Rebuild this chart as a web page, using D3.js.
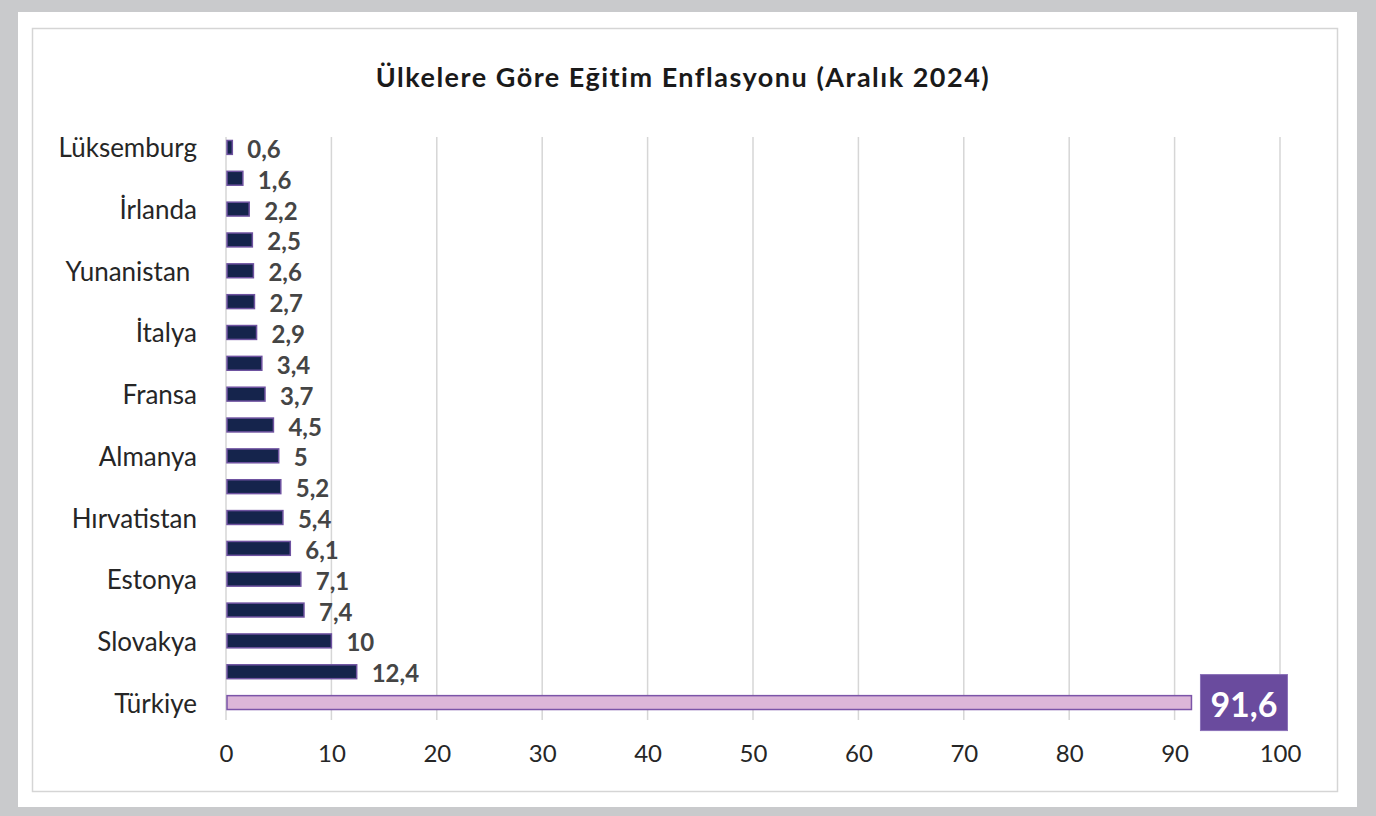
<!DOCTYPE html>
<html><head><meta charset="utf-8">
<script src="https://cdn.jsdelivr.net/npm/d3@7"></script>
<style>
html,body{margin:0;padding:0;background:#fff;}
svg{display:block;}
</style></head>
<body>
<script>
const title = "Ülkelere Göre Eğitim Enflasyonu (Aralık 2024)";
// Only every other category is labelled in the original chart
const categories = ["Lüksemburg","","İrlanda","","Yunanistan ","","İtalya","","Fransa","","Almanya","","Hırvatistan","","Estonya","","Slovakya","","Türkiye"];
const values = [0.6,1.6,2.2,2.5,2.6,2.7,2.9,3.4,3.7,4.5,5,5.2,5.4,6.1,7.1,7.4,10,12.4,91.6];
const xTicks = [0,10,20,30,40,50,60,70,80,90,100];
const highlight = "Türkiye";

const W = 1376, H = 816;
const svg = d3.select("body").append("svg").attr("width", W).attr("height", H);
const font = "Lato, 'Open Sans', sans-serif";

// outer frame
svg.append("rect").attr("x",0).attr("y",0).attr("width",W).attr("height",H).attr("fill","#c9cacc");
svg.append("rect").attr("x",18).attr("y",12).attr("width",1339).attr("height",795).attr("fill","#fff");
svg.append("rect").attr("x",32.5).attr("y",28.5).attr("width",1305).attr("height",763)
  .attr("fill","none").attr("stroke","#d5d5d5").attr("stroke-width",1.5);

svg.append("text").attr("x",683).attr("y",76).attr("text-anchor","middle")
  .attr("dominant-baseline","central")
  .attr("font-family",font).attr("font-weight","bold").attr("font-size",27).attr("fill","#1a1a1a")
  .attr("letter-spacing",1.5)
  .text(title);

const x = d3.scaleLinear().domain([0,100]).range([226,1280]);
const y = d3.scaleBand().domain(d3.range(categories.length)).range([132,718]).paddingInner(0.55).paddingOuter(0.275);

// gridlines
svg.append("g").selectAll("line").data(xTicks).join("line")
  .attr("x1",d=>x(d)).attr("x2",d=>x(d)).attr("y1",137).attr("y2",720)
  .attr("stroke","#d6d6d6").attr("stroke-width",1.5);

// x tick labels
const xAxis = d3.axisBottom(x).tickValues(xTicks).tickSize(0).tickPadding(0);
const gx = svg.append("g").attr("transform","translate(0,752)").call(xAxis);
gx.select(".domain").remove();
gx.selectAll("text").attr("font-family",font).attr("font-size",24).attr("fill","#262626")
  .attr("y",0).attr("dy",null).attr("dominant-baseline","central");

// y labels
const yAxis = d3.axisLeft(y).tickFormat(i=>categories[i]).tickSize(0).tickPadding(0);
const gy = svg.append("g").attr("transform","translate(197,0)").call(yAxis);
gy.select(".domain").remove();
gy.selectAll("text").attr("font-family",font).attr("font-size",26).attr("fill","#262626")
  .attr("dy",null).attr("dominant-baseline","central").style("white-space","pre");

// bars
const data = values.map((v,i)=>({v,i,c:categories[i]}));
svg.append("g").selectAll("rect").data(data).join("rect")
  .attr("x",x(0)+1).attr("y",d=>y(d.i))
  .attr("width",d=>x(d.v)-x(0)-1).attr("height",y.bandwidth())
  .attr("fill",d=>d.c===highlight?"#dcb6d8":"#15244c")
  .attr("stroke",d=>d.c===highlight?"#7b54a8":"#6e52a0").attr("stroke-width",1.5);

const fmt = v => String(v).replace(".",",");
// value labels
svg.append("g").selectAll("text").data(data.filter(d=>d.c!==highlight)).join("text")
  .attr("x",d=>x(d.v)+15).attr("y",d=>y(d.i)+y.bandwidth()/2+1)
  .attr("dominant-baseline","central")
  .attr("font-family",font).attr("font-weight","bold").attr("font-size",24).attr("fill","#454545")
  .text(d=>fmt(d.v));

// highlighted label box
data.filter(d=>d.c===highlight).forEach(d=>{
  const bx = x(d.v)+9, cy = y(d.i)+y.bandwidth()/2;
  svg.append("rect").attr("x",bx).attr("y",cy-28).attr("width",87).attr("height",56)
    .attr("fill","#6a4b9e").attr("stroke","#8a70b8").attr("stroke-width",1);
  svg.append("text").attr("x",bx+43.5).attr("y",cy+1).attr("text-anchor","middle")
    .attr("dominant-baseline","central")
    .attr("font-family",font).attr("font-weight","bold").attr("font-size",34).attr("fill","#fff")
    .text(fmt(d.v));
});
</script>
</body></html>
